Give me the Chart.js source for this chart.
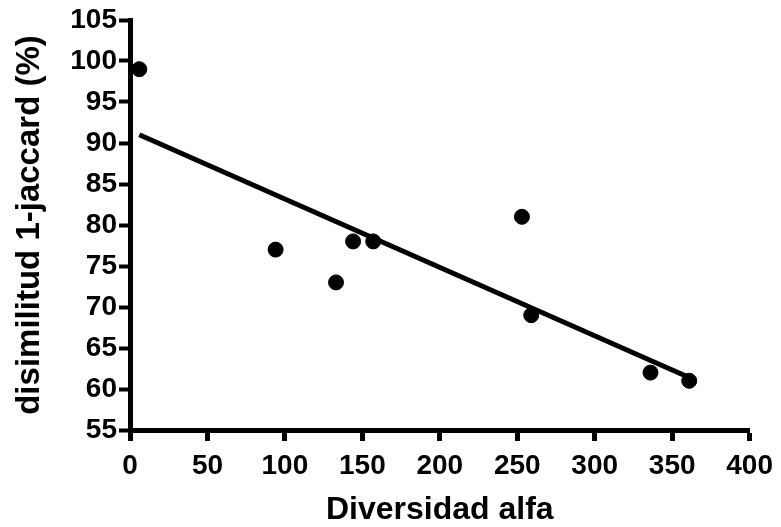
<!DOCTYPE html>
<html>
<head>
<meta charset="utf-8">
<script src="https://cdn.jsdelivr.net/npm/chart.js@4/dist/chart.umd.min.js"></script>
<style>
    html, body { margin: 0; padding: 0; background: #fff; }
    #wrap { width: 781px; height: 527px; }
</style>
</head>
<body>
<div id="wrap"><canvas id="chartJaccard"></canvas></div>
<script>
// Datos
const alfa = [6, 94, 133, 144, 157, 253, 259, 336, 361];
const disimilitud = [99, 77, 73, 78, 78, 81, 69, 62, 61];
// recta de ajuste (extremos leidos)
const ajusteX = [6, 361];
const ajusteY = [91, 61.4];
const xTicks = [0, 50, 100, 150, 200, 250, 300, 350, 400];
const yTicks = [55, 60, 65, 70, 75, 80, 85, 90, 95, 100, 105];

document.addEventListener('DOMContentLoaded', function() {
    const fuente = 'Liberation Sans, Arial, sans-serif';
    const ctx = document.getElementById('chartJaccard');

    new Chart(ctx.getContext('2d'), {
        type: 'scatter',
        data: {
            datasets: [{
                label: 'puntos',
                data: alfa.map((x, i) => ({ x: x, y: disimilitud[i] })),
                backgroundColor: '#000',
                borderColor: '#000',
                pointRadius: 7.5,
                showLine: false
            }, {
                label: 'ajuste',
                data: ajusteX.map((x, i) => ({ x: x, y: ajusteY[i] })),
                borderColor: '#000',
                borderWidth: 5,
                pointRadius: 0,
                showLine: true
            }]
        },
        options: {
            responsive: true,
            maintainAspectRatio: false,
            animation: false,
            layout: {
                padding: { top: 20, right: 30, bottom: 0, left: 0 }
            },
            plugins: {
                legend: { display: false },
                tooltip: { enabled: false }
            },
            scales: {
                x: {
                    type: 'linear',
                    min: 0,
                    max: 400,
                    afterBuildTicks: function(scale) {
                        scale.ticks = xTicks.map(v => ({ value: v }));
                    },
                    afterFit: function(scale) {
                        scale.height = 97;
                    },
                    border: { display: true, color: '#000', width: 5 },
                    grid: {
                        drawOnChartArea: false,
                        drawTicks: true,
                        tickLength: 11,
                        tickWidth: 5,
                        tickColor: '#000'
                    },
                    ticks: {
                        color: '#000',
                        padding: 8,
                        maxRotation: 0,
                        font: { family: fuente, size: 28, weight: 'bold' }
                    },
                    title: {
                        display: true,
                        text: 'Diversidad alfa',
                        color: '#000',
                        padding: { top: 0, bottom: 1 },
                        font: { family: fuente, size: 32, weight: 'bold', lineHeight: 1 }
                    }
                },
                y: {
                    type: 'linear',
                    min: 55,
                    max: 105,
                    afterBuildTicks: function(scale) {
                        scale.ticks = yTicks.map(v => ({ value: v }));
                    },
                    afterFit: function(scale) {
                        scale.width = 130;
                    },
                    border: { display: true, color: '#000', width: 5 },
                    grid: {
                        drawOnChartArea: false,
                        drawTicks: true,
                        tickLength: 11,
                        tickWidth: 4,
                        tickColor: '#000'
                    },
                    ticks: {
                        color: '#000',
                        padding: 2,
                        font: { family: fuente, size: 28, weight: 'bold' }
                    },
                    title: {
                        display: true,
                        text: 'disimilitud 1-jaccard (%)',
                        color: '#000',
                        padding: { top: 10, bottom: 0 },
                        font: { family: fuente, size: 33, weight: 'bold', lineHeight: 1.2 }
                    }
                }
            }
        }
    });
});
</script>
</body>
</html>
